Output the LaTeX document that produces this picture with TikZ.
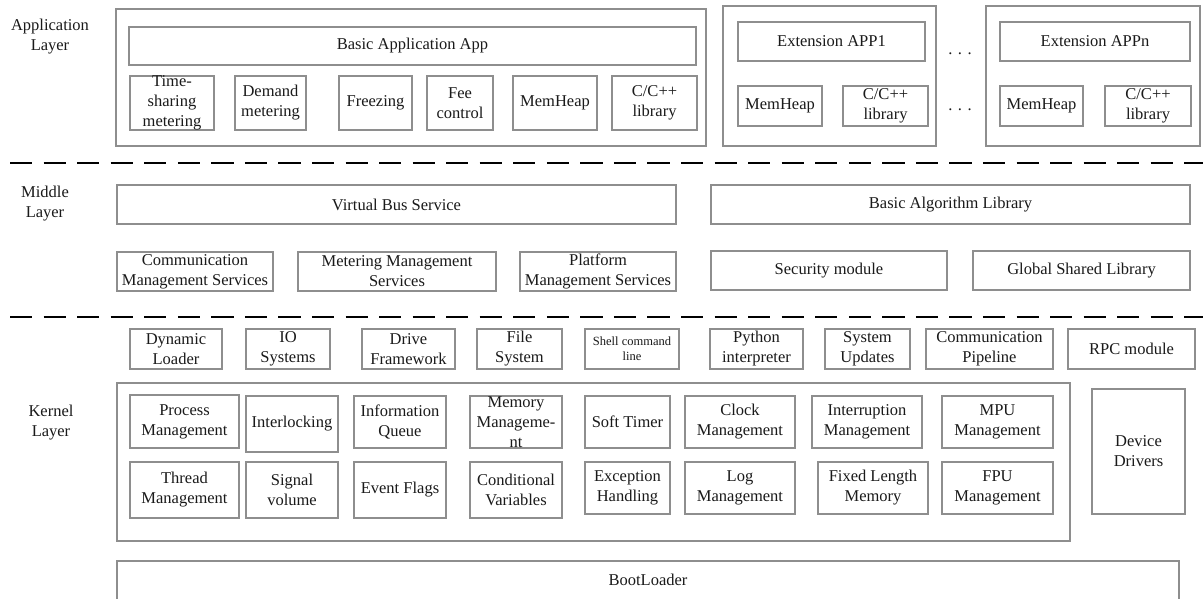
\documentclass[tikz,border=0pt]{standalone}
\usepackage{fontspec}
\setmainfont{Liberation Serif}
\definecolor{boxgray}{HTML}{8E8E8E}
\definecolor{inkcol}{HTML}{1A1A1A}
% \ubox[text style]{name}{x1}{y1}{x2}{y2}{label}
\newcommand\ubox[7][txt]{%
  \node[bx, minimum width={#5-#3}, minimum height={#6-#4}] (#2) at ({(#3+#5)/2},{(#4+#6)/2}) {};
  \node[#1] (#2-t) at (#2.center) {#7};}
\begin{document}
\begin{tikzpicture}[x=1pt,y=-1pt,
  bx/.style={draw=boxgray, line width=1.3pt, fill=white, inner sep=0pt, outer sep=0pt},
  txt/.style={font=\fontsize{16.5}{20}\selectfont, text=inkcol, align=center, inner sep=0pt},
  small/.style={font=\fontsize{12.5}{15}\selectfont, text=inkcol, align=center, inner sep=0pt},
  sep/.style={draw=black, line width=2pt, dash pattern=on 22.2pt off 11.35pt}]
\useasboundingbox (0,0) rectangle (1203,599);
\fill[white] (0,0) rectangle (1203,599);

% ---------------- application layer ----------------
\node[txt] (lapp) at (50,37) {Application\\Layer};
\ubox{appouter}{116}{9}{706}{146}{}
\ubox{basicapp}{129}{27}{696}{65}{Basic Application App}
\ubox{timeshare}{130}{76}{214}{130}{Time-\\sharing\\metering}
\ubox{demand}{235}{76}{306}{130}{Demand\\metering}
\ubox{freezing}{339}{76}{412}{130}{Freezing}
\ubox{fee}{427}{76}{493}{130}{Fee\\control}
\ubox{memheap}{513}{76}{597}{130}{MemHeap}
\ubox{clib}{612}{76}{697}{130}{C/C++\\library}

\ubox{extouter1}{723}{6}{936}{146}{}
\ubox{ext1}{738}{22}{925}{61}{Extension APP1}
\ubox{extheap1}{738}{86}{822}{126}{MemHeap}
\ubox{extlib1}{843}{86}{928}{126}{C/C++\\library}

\node[txt, anchor=base] (dotsa) at (960,55) {.\hspace{5.5pt}.\hspace{5.5pt}.};
\node[txt, anchor=base] (dotsb) at (960,111) {.\hspace{5.5pt}.\hspace{5.5pt}.};

\ubox{extoutern}{986}{6}{1200}{146}{}
\ubox{extn}{1000}{22}{1190}{61}{Extension APPn}
\ubox{extheapn}{1000}{86}{1083}{126}{MemHeap}
\ubox{extlibn}{1105}{86}{1191}{126}{C/C++\\library}

% layer separators
\coordinate (sepa1) at (10,163);
\coordinate (sepa2) at (1203,163);
\draw[sep] (sepa1) -- (sepa2);
\coordinate (sepb1) at (10,317);
\coordinate (sepb2) at (1203,317);
\draw[sep] (sepb1) -- (sepb2);

% ---------------- middle layer ----------------
\node[txt] (lmid) at (45,204) {Middle\\Layer};
\ubox{vbus}{117}{185}{676}{224}{Virtual Bus Service}
\ubox{algo}{711}{185}{1190}{224}{Basic Algorithm Library}
\ubox{commsvc}{117}{252}{273}{291}{Communication\\Management Services}
\ubox{metersvc}{298}{252}{496}{291}{Metering Management\\Services}
\ubox{platsvc}{520}{252}{676}{291}{Platform\\Management Services}
\ubox{security}{711}{251}{947}{290}{Security module}
\ubox{global}{973}{251}{1190}{290}{Global Shared Library}

% ---------------- kernel layer ----------------
\node[txt] (lker) at (51,423) {Kernel\\Layer};
\ubox{dynload}{130}{329}{222}{369}{Dynamic\\Loader}
\ubox{iosys}{246}{329}{330}{369}{IO\\Systems}
\ubox{drivefw}{362}{329}{455}{369}{Drive\\Framework}
\ubox{filesys}{477}{329}{562}{369}{File\\System}
\ubox[small]{shell}{585}{329}{679}{369}{Shell command\\line}
\ubox{python}{710}{329}{803}{369}{Python\\interpreter}
\ubox{sysupd}{825}{329}{910}{369}{System\\Updates}
\ubox{pipe}{926}{329}{1053}{369}{Communication\\Pipeline}
\ubox{rpc}{1068}{329}{1195}{369}{RPC module}

\ubox{kernel}{117}{383}{1070}{541}{}
\ubox{process}{130}{395}{239}{448}{Process\\Management}
\ubox{interlock}{246}{396}{338}{452}{Interlocking}
\ubox{infoq}{354}{396}{446}{448}{Information\\Queue}
\ubox{memmgmt}{470}{396}{562}{448}{Memory\\Manageme-\\nt}
\ubox{softtimer}{585}{396}{670}{448}{Soft Timer}
\ubox{clock}{685}{396}{795}{448}{Clock\\Management}
\ubox{interrupt}{812}{396}{922}{448}{Interruption\\Management}
\ubox{mpu}{942}{396}{1053}{448}{MPU\\Management}

\ubox{thread}{130}{462}{239}{518}{Thread\\Management}
\ubox{signal}{246}{462}{338}{518}{Signal\\volume}
\ubox{event}{354}{462}{446}{518}{Event Flags}
\ubox{condvar}{470}{462}{562}{518}{Conditional\\Variables}
\ubox{exception}{585}{462}{670}{514}{Exception\\Handling}
\ubox{logmgmt}{685}{462}{795}{514}{Log\\Management}
\ubox{fixedmem}{818}{462}{928}{514}{Fixed Length\\Memory}
\ubox{fpu}{942}{462}{1053}{514}{FPU\\Management}

\ubox{drivers}{1092}{389}{1185}{514}{Device\\Drivers}

% ---------------- boot loader ----------------
\node[bx, minimum width={1179-117}, minimum height=50] (boot) at ({(117+1179)/2},586) {};
\node[txt] (boot-t) at (648,580) {BootLoader};
\end{tikzpicture}
\end{document}
